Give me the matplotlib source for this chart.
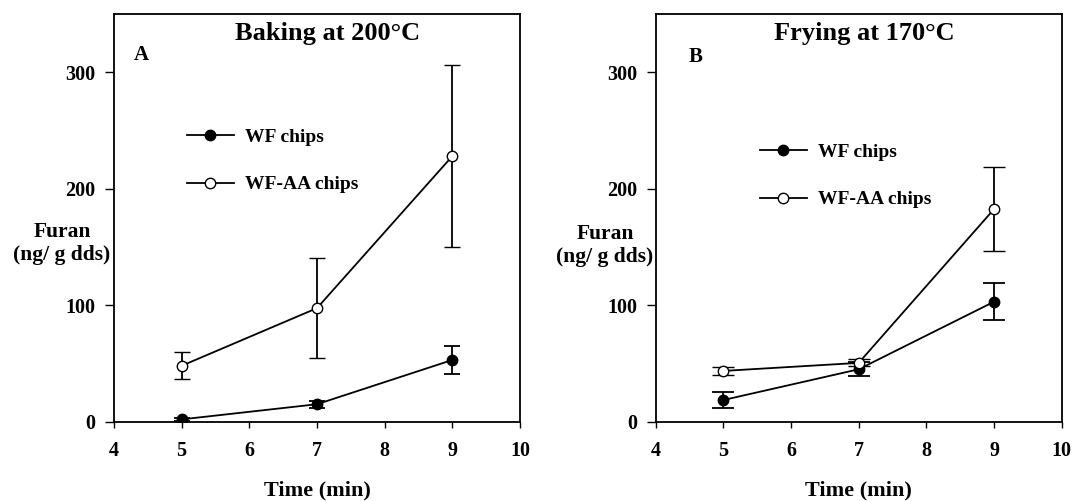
import matplotlib
matplotlib.use("Agg")
import matplotlib.pyplot as plt

time_min = [5, 7, 9]

# Panel A: Baking at 200°C
bake_wf = [2, 15, 53]
bake_wf_err = [1, 3, 12]
bake_wfaa = [48, 97.5, 228]
bake_wfaa_err = [11.5, 43, 78]

# Panel B: Frying at 170°C
fry_wf = [18.6, 45, 103]
fry_wf_err = [7, 6, 16]
fry_wfaa = [43.6, 50.5, 182.5]
fry_wfaa_err = [3.6, 3, 36]

x_ticks = [4, 5, 6, 7, 8, 9, 10]
y_ticks = [0, 100, 200, 300]
series_labels = ["WF chips", "WF-AA chips"]
titles = ["Baking at 200°C", "Frying at 170°C"]
panel_letters = ["A", "B"]

plt.rcParams['font.family'] = ['Liberation Serif', 'DejaVu Serif']
plt.rcParams['font.weight'] = 'bold'

fig = plt.figure(figsize=(10.73, 5.01), dpi=100)
W, H = 1073, 501
axA = fig.add_axes([114 / W, 1 - 421.7 / H, 406 / W, 407.7 / H])
axB = fig.add_axes([655.7 / W, 1 - 421.7 / H, 406 / W, 407.7 / H])

panels = [
    (axA, bake_wf, bake_wf_err, bake_wfaa, bake_wfaa_err, 6,
     (187 / W, 1 - 128 / H), (0.526, 0.952), (0.067, 0.900), (-0.128, 0.436)),
    (axB, fry_wf, fry_wf_err, fry_wfaa, fry_wfaa_err, 8,
     (760 / W, 1 - 143 / H), (0.513, 0.952), (0.098, 0.894), (-0.125, 0.431)),
]

for i, (ax, wf, wf_err, aa, aa_err, cap, leg_pos, title_pos, letter_pos, ylab_pos) in enumerate(panels):
    ax.errorbar(time_min, wf, yerr=wf_err, color='black', marker='o',
                markersize=7.5, markerfacecolor='black', markeredgecolor='black',
                lw=1.3, elinewidth=1.3, capsize=cap, capthick=1.3,
                label=series_labels[0], zorder=3)
    ax.errorbar(time_min, aa, yerr=aa_err, color='black', marker='o',
                markersize=7.5, markerfacecolor='white', markeredgecolor='black',
                markeredgewidth=1.0, lw=1.3, elinewidth=1.3, capsize=cap,
                capthick=1.3, label=series_labels[1], zorder=4)
    ax.set_xlim(4, 10)
    ax.set_ylim(0, 350)
    ax.set_xticks(x_ticks)
    ax.set_yticks(y_ticks)
    ax.tick_params(axis='y', direction='out', length=6.5, width=1, pad=7,
                   labelsize=14.5, right=False)
    ax.tick_params(axis='x', direction='out', length=4, width=1, pad=10,
                   labelsize=14.5, top=False)
    for lab in ax.get_xticklabels() + ax.get_yticklabels():
        lab.set_fontweight('bold')
    for sp in ax.spines.values():
        sp.set_linewidth(1.3)
    ax.set_xlabel("Time (min)", fontsize=16, fontweight='bold', labelpad=14)
    ax.set_ylabel("Furan\n(ng/ g dds)", fontsize=15.5, fontweight='bold',
                  rotation=0, ha='center', va='center')
    ax.yaxis.set_label_coords(*ylab_pos)
    ax.text(title_pos[0], title_pos[1], titles[i], transform=ax.transAxes,
            fontsize=19, fontweight='bold', ha='center', va='center')
    ax.text(letter_pos[0], letter_pos[1], panel_letters[i], transform=ax.transAxes,
            fontsize=15, fontweight='bold', ha='center', va='center')
    handles, labels = ax.get_legend_handles_labels()
    handles = [h[0] for h in handles]
    ax.legend(handles, labels, loc='upper left', bbox_to_anchor=leg_pos,
              bbox_transform=fig.transFigure, frameon=False,
              handlelength=2.4, handletextpad=0.6, labelspacing=1.55,
              borderpad=0, borderaxespad=0, prop={'weight': 'bold', 'size': 14})

fig.savefig("out.png", dpi=100)
